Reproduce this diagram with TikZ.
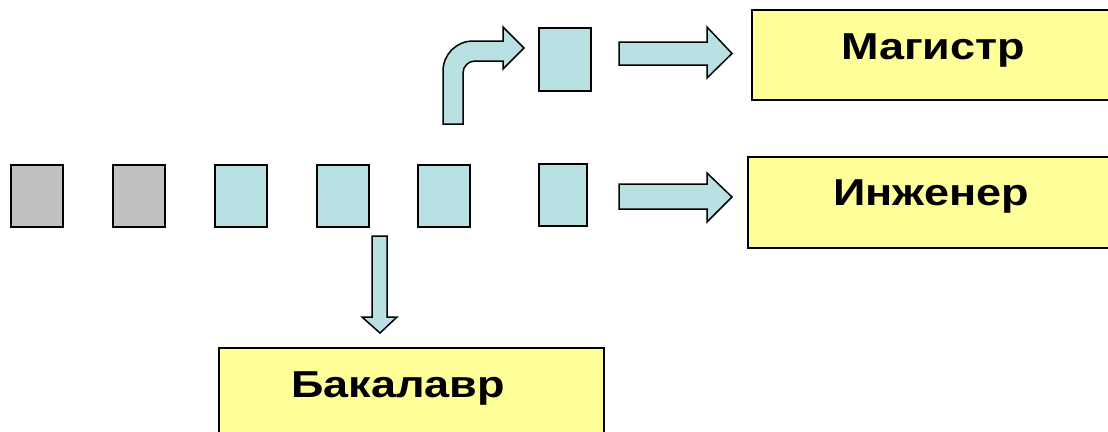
\documentclass[tikz,border=0pt]{standalone}
\usepackage{fontspec}
\usepackage{graphicx}
\newfontfamily\labfont{Liberation Sans}
\definecolor{cyanfill}{HTML}{B9E0E3}
\definecolor{grayfill}{HTML}{C0C0C0}
\definecolor{yelfill}{HTML}{FFFF99}
\newcommand{\lbl}[1]{\scalebox{1.2}[1]{\labfont\bfseries\fontsize{37.5}{40}\selectfont #1}}
\tikzset{
  sq/.style={draw=black, line width=2pt, fill=cyanfill, minimum width=52pt, minimum height=62pt, inner sep=0pt},
  graysq/.style={sq, fill=grayfill},
  goalbox/.style={draw=black, line width=2pt, fill=yelfill},
  blockarrow/.style={draw=black, line width=1.5pt, fill=cyanfill, line join=miter},
  lab/.style={anchor=base, inner sep=0pt}
}
\begin{document}
\begin{tikzpicture}[x=1pt,y=-1pt]
\useasboundingbox (0,0) rectangle (1108,431);
\clip (0,0) rectangle (1108,431);
% goal boxes
\draw[goalbox] (752,10) rectangle (1120,100);
\draw[goalbox] (748,157) rectangle (1120,248);
\draw[goalbox] (219,348) rectangle (604,445);
\node[lab] (mag) at (933,59) {\lbl{Магистр}};
\node[lab] (ing) at (931,205) {\lbl{Инженер}};
\node[lab] (bak) at (398,397) {\lbl{Бакалавр}};
% squares
\node[graysq] (s1) at (37,196) {};
\node[graysq] (s2) at (139,196) {};
\node[sq] (s3) at (240.5,196) {};
\node[sq] (s4) at (342.5,196) {};
\node[sq] (s5) at (444,196) {};
\node[sq, minimum width=48pt] (s6) at (562.5,195) {};
\node[sq, minimum height=63pt] (s7) at (565,59.5) {};
% right arrows
\draw[blockarrow] (619,42) -- (707,42) -- (707,27) -- (732,53.5) -- (707,78) -- (707,65) -- (619,65) -- cycle;
\draw[blockarrow] (619,184) -- (707,184) -- (707,173) -- (732,197) -- (707,222) -- (707,209) -- (619,209) -- cycle;
% down arrow
\draw[blockarrow] (372,236) -- (387,236) -- (387,317) -- (397,317) -- (380,333) -- (362,317) -- (372,317) -- cycle;
% bent arrow
\draw[blockarrow] (443,124) -- (443,71) arc[start angle=180, end angle=270, radius=30] -- (503,41) -- (503,27) -- (524,48) -- (503,69) -- (503,61) -- (475,61) arc[start angle=270, end angle=180, radius=12] -- (463,124) -- cycle;
\end{tikzpicture}
\end{document}
